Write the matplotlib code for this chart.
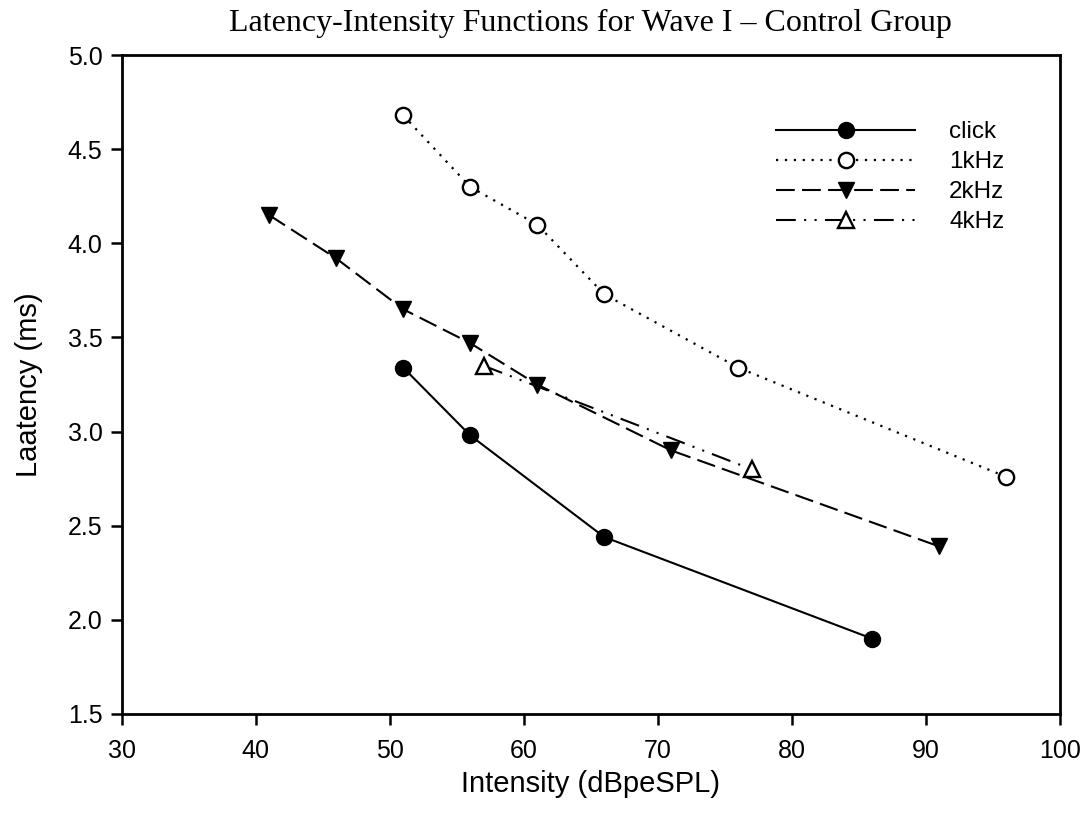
import matplotlib
matplotlib.use("Agg")
import matplotlib.pyplot as plt

# values
click_x = [51, 56, 66, 86]
click_y = [3.34, 2.98, 2.44, 1.90]

khz1_x = [51, 56, 61, 66, 76, 96]
khz1_y = [4.68, 4.30, 4.10, 3.73, 3.34, 2.76]

khz2_x = [41, 46, 51, 56, 61, 71, 91]
khz2_y = [4.15, 3.92, 3.65, 3.47, 3.25, 2.90, 2.39]

khz4_x = [57, 77]
khz4_y = [3.35, 2.80]

x_ticks = [30, 40, 50, 60, 70, 80, 90, 100]
y_ticks = [1.5, 2.0, 2.5, 3.0, 3.5, 4.0, 4.5, 5.0]

sans = "Liberation Sans"
serif = "Liberation Serif"

fig = plt.figure(figsize=(10.88, 8.23), dpi=100)
ax = fig.add_axes([0.112, 0.1325, 0.862, 0.8005])

ax.plot(click_x, click_y, color="black", lw=1.5, ls="-",
        marker="o", ms=11.5, mfc="black", mec="black", label="click")
ax.plot(khz1_x, khz1_y, color="black", lw=1.6, ls=(0, (1, 3)),
        marker="o", ms=11, mfc="white", mec="black", mew=1.7, label="1kHz")
ax.plot(khz2_x, khz2_y, color="black", lw=1.5, ls=(0, (9, 3.5)),
        marker="v", ms=11.5, mfc="black", mec="black", label="2kHz")
ax.plot(khz4_x, khz4_y, color="black", lw=1.5, ls=(0, (9.5, 4, 1, 4, 1, 4)),
        marker="^", ms=11.5, mfc="white", mec="black", mew=1.7, label="4kHz")

ax.set_xlim(30, 100)
ax.set_ylim(1.5, 5.0)
ax.set_xticks(x_ticks)
ax.set_yticks(y_ticks)
ax.set_yticklabels([f"{v:.1f}" for v in y_ticks])

for s in ax.spines.values():
    s.set_linewidth(2)
ax.tick_params(direction="out", length=8, width=1.8, labelsize=18, pad=6)
for lab in ax.get_xticklabels() + ax.get_yticklabels():
    lab.set_fontfamily(sans)
ax.tick_params(axis="x", pad=10)

ax.set_xlabel("Intensity (dBpeSPL)", fontsize=21, fontfamily=sans, labelpad=5)
ax.set_ylabel("Laatency (ms)", fontsize=21, fontfamily=sans, labelpad=18)

fig.text(0.543, 0.972, "Latency-Intensity Functions for Wave I \u2013 Control Group",
         ha="center", va="center", fontsize=23, fontfamily=serif)

leg = ax.legend(loc="upper left", bbox_to_anchor=(0.698, 0.9), frameon=False,
                borderpad=0, borderaxespad=0,
                handlelength=5.7, handletextpad=1.4, labelspacing=0.33,
                prop={"family": sans, "size": 17.5})

fig.savefig("out.png", dpi=100, facecolor="white")
